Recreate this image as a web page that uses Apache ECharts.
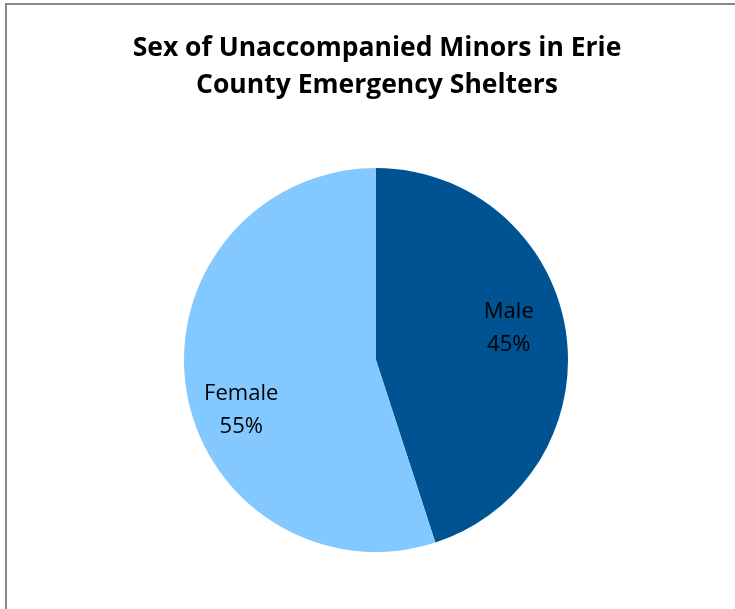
<!DOCTYPE html>
<html>
<head>
<meta charset="utf-8">
<style>
  html, body { margin: 0; padding: 0; background: #fff; }
  #frame {
    position: absolute; left: 5px; top: 3px; width: 730px; height: 606px;
    border-left: 2px solid #888; border-top: 2px solid #888; box-sizing: border-box;
  }
  #chart { position: absolute; left: 0; top: 0; width: 735px; height: 609px; }
</style>
<script src="https://cdn.jsdelivr.net/npm/echarts@6/dist/echarts.min.js"></script>
</head>
<body>
<div id="frame"></div>
<div id="chart"></div>
<script>
// Shelter population by sex
const titleText = 'Sex of Unaccompanied Minors in Erie\nCounty Emergency Shelters';
const categories = ['Male', 'Female'];
const shares = [45, 55];
const sliceColors = ['#005392', '#83C8FE'];

const chart = echarts.init(document.getElementById('chart'), null, { renderer: 'canvas' });

// nudge labels from the mid-radius spot out toward where they sit
const labelNudge = [[35, -16], [-37, 35]];

chart.setOption({
  backgroundColor: 'transparent',
  animation: false,
  title: {
    text: titleText,
    left: 372,
    top: 25,
    textAlign: 'center',
    textStyle: {
      fontFamily: 'Open Sans',
      fontWeight: 'bold',
      fontSize: 26.5,
      lineHeight: 37,
      color: '#000'
    }
  },
  series: [{
    type: 'pie',
    center: [376, 360],
    radius: [0, 192],
    startAngle: 90,
    clockwise: true,
    silent: true,
    data: categories.map((name, i) => ({
      name: name,
      value: shares[i],
      itemStyle: { color: sliceColors[i] }
    })),
    label: {
      show: true,
      position: 'inner',
      formatter: p => p.name + '\n' + p.value + '%',
      fontFamily: 'Open Sans',
      fontSize: 22,
      lineHeight: 33,
      color: '#000'
    },
    labelLayout: p => ({ dx: labelNudge[p.dataIndex][0], dy: labelNudge[p.dataIndex][1] }),
    labelLine: { show: false }
  }]
});
</script>
</body>
</html>
